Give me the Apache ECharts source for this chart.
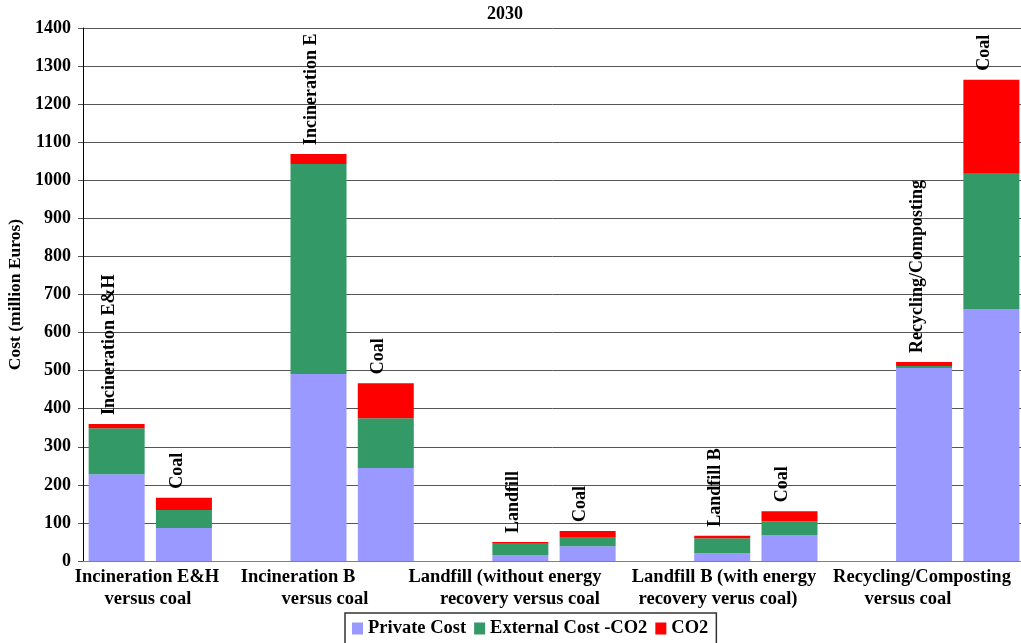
<!DOCTYPE html>
<html>
<head>
<meta charset="utf-8">
<title>2030</title>
<script src="https://cdn.jsdelivr.net/npm/echarts@6/dist/echarts.min.js"></script>
<style>
  html, body { margin: 0; padding: 0; background: #ffffff; }
  #chart { width: 1021px; height: 643px; }
</style>
</head>
<body>
<div id="chart"></div>
<script>
// Waste-treatment options compared with coal, cost in million Euros (2030)
const groups = [
  'Incineration E&H\nversus coal',
  'Incineration B\nversus coal',
  'Landfill (without energy\nrecovery versus coal',
  'Landfill B (with energy\nrecovery verus coal)',
  'Recycling/Composting\nversus coal'
];
const optionNames = ['Incineration E&H', 'Incineration E', 'Landfill', 'Landfill B', 'Recycling/Composting'];
const coalName = 'Coal';

const seriesNames = ['Private Cost', 'External Cost -CO2', 'CO2'];

// option bar of each group
const optionPrivate  = [228, 491, 16, 21, 507];
const optionExternal = [121, 552, 29, 39, 5];
const optionCO2      = [11, 26, 5, 6, 11];

// coal bar of each group
const coalPrivate  = [87, 244, 39, 68, 662];
const coalExternal = [47, 131, 24, 36, 355];
const coalCO2      = [32, 92, 16, 27, 247];

const yMin = 0, yMax = 1400, yStep = 100;

// ---- layout / style ----
const FONT = "'Liberation Serif', 'Times New Roman', serif";
const colors = ['#9999FF', '#339966', '#FF0000'];
// horizontal nudge (px) of each line of the group captions
const captionLineShift = [[0, 1], [-41, -14], [-26, -11], [1, -5], [7, -7]];

// Each group takes two bar slots (option, coal) followed by an empty slot
function toSlots(optArr, coalArr) {
  const out = [];
  for (let i = 0; i < groups.length; i++) {
    out.push(optArr[i], coalArr[i]);
    if (i < groups.length - 1) out.push('-');
  }
  return out;
}
const slotNames = toSlots(optionNames, optionNames.map(() => coalName));
const slotKeys = slotNames.map((n, i) => 'slot' + i);

const stacks = [
  toSlots(optionPrivate, coalPrivate),
  toSlots(optionExternal, coalExternal),
  toSlots(optionCO2, coalCO2)
];

const series = seriesNames.map((name, s) => {
  const isTop = s === seriesNames.length - 1;
  return {
    name: name,
    type: 'bar',
    stack: 'cost',
    xAxisIndex: 0,
    yAxisIndex: 0,
    barWidth: 56,
    itemStyle: { color: colors[s] },
    emphasis: { disabled: true },
    data: stacks[s],
    label: isTop ? {
      show: true,
      position: 'top',
      rotate: 90,
      align: 'left',
      verticalAlign: 'middle',
      distance: 9,
      offset: [0, -7],
      color: '#000',
      fontFamily: FONT,
      fontWeight: 'bold',
      fontSize: 18,
      formatter: p => slotNames[p.dataIndex]
    } : { show: false }
  };
});

// rich styles: one per caption line, padded to nudge it sideways
const captionRich = {};
captionLineShift.forEach((shifts, g) => {
  shifts.forEach((s, l) => {
    captionRich['g' + g + 'l' + l] = {
      fontFamily: FONT, fontWeight: 'bold', fontSize: 18.5, color: '#000', lineHeight: 22,
      padding: [0, s < 0 ? -2 * s : 0, 0, s > 0 ? 2 * s : 0]
    };
  });
});

const chart = echarts.init(document.getElementById('chart'), null, { renderer: 'canvas' });
chart.setOption({
  animation: false,
  backgroundColor: '#ffffff',
  title: {
    text: '2030',
    left: 487,
    top: 5,
    padding: 0,
    textStyle: { fontFamily: FONT, fontWeight: 'bold', fontSize: 18, color: '#000' }
  },
  legend: {
    data: seriesNames,
    left: 345,
    top: 613,
    orient: 'horizontal',
    icon: 'rect',
    itemWidth: 11,
    itemHeight: 12,
    itemGap: 8,
    padding: [6, 8, 6, 7],
    borderColor: '#333',
    borderWidth: 1.5,
    backgroundColor: '#fff',
    selectedMode: false,
    textStyle: { fontFamily: FONT, fontWeight: 'bold', fontSize: 18.5, color: '#000', lineHeight: 18 }
  },
  grid: [
    { left: 83, width: 942, top: 28, bottom: 82, containLabel: false, outerBoundsMode: 'none' },
    { left: 51, width: 960, top: 28, bottom: 82, containLabel: false, outerBoundsMode: 'none' }
  ],
  xAxis: [
    {
      type: 'category',
      gridIndex: 0,
      data: slotKeys,
      boundaryGap: true,
      axisLine: { show: true, lineStyle: { color: '#808080', width: 1 } },
      axisTick: { show: false },
      axisLabel: { show: false },
      splitLine: { show: false }
    },
    {
      type: 'category',
      gridIndex: 1,
      data: groups,
      boundaryGap: true,
      axisLine: { show: false },
      axisTick: { show: false },
      splitLine: { show: false },
      axisLabel: {
        interval: 0,
        margin: 5,
        color: '#000',
        fontFamily: FONT,
        fontWeight: 'bold',
        fontSize: 18.5,
        lineHeight: 22,
        formatter: (value, idx) => value.split('\n')
          .map((ln, l) => '{g' + idx + 'l' + l + '|' + ln + '}').join('\n'),
        rich: captionRich
      }
    }
  ],
  yAxis: [
    {
      type: 'value',
      gridIndex: 0,
      min: yMin,
      max: yMax,
      interval: yStep,
      name: 'Cost (million Euros)',
      nameLocation: 'middle',
      nameGap: 55,
      nameRotate: 90,
      nameTextStyle: { fontFamily: FONT, fontWeight: 'bold', fontSize: 17.5, color: '#000' },
      axisLine: { show: true, lineStyle: { color: '#000', width: 1 } },
      axisTick: { show: true, inside: false, length: 5, lineStyle: { color: '#555', width: 1 } },
      axisLabel: {
        margin: 12, color: '#000', fontFamily: FONT, fontWeight: 'bold', fontSize: 18,
        formatter: v => String(v)
      },
      splitLine: { show: true, lineStyle: { color: '#555', width: 1 } }
    },
    {
      type: 'value',
      gridIndex: 1,
      min: yMin,
      max: yMax,
      show: false,
      splitLine: { show: false }
    }
  ],
  series: series
});
</script>
</body>
</html>
